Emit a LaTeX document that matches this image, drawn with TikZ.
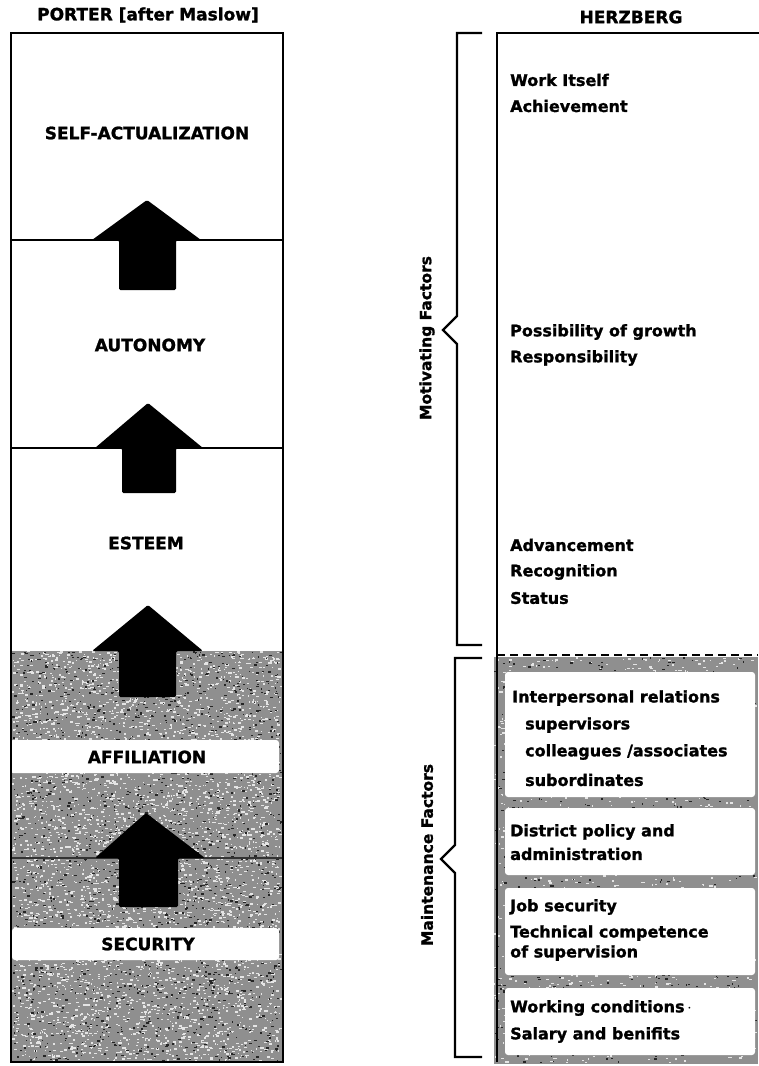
\documentclass[tikz,border=0pt]{standalone}
\usepackage{fontspec}
\setmainfont{DejaVu Sans}[BoldFeatures={FakeBold=1.3}]

% grainy grey screen: base fill plus random light and dark specks
\newcommand\grainfill[6]{% x0, y0, width, height, light specks, dark specks
  \fill[black!44] (#1,#2) rectangle ++(#3,#4);
  \foreach \k in {1,...,#5}{%
    \pgfmathsetmacro\sx{#1+rnd*(#3-3)}%
    \pgfmathsetmacro\sy{#2+rnd*(#4-2)}%
    \pgfmathsetmacro\sw{0.8+rnd*2.6}%
    \fill[white!90!black] (\sx,\sy) rectangle ++(\sw,1.4);
  }%
  \foreach \k in {1,...,#6}{%
    \pgfmathsetmacro\sx{#1+rnd*(#3-3)}%
    \pgfmathsetmacro\sy{#2+rnd*(#4-2)}%
    \pgfmathsetmacro\sw{0.8+rnd*2.2}%
    \fill[black!85] (\sx,\sy) rectangle ++(\sw,1.3);
  }%
}

\tikzset{
  frame/.style={line width=2.6pt},
  divider/.style={line width=1.6pt},
  uparrow/.style={fill=black, rounded corners=1.5pt},
  level/.style={font=\fontsize{17}{20}\selectfont\bfseries, inner sep=0pt},
  heading/.style={font=\fontsize{17}{20}\selectfont\bfseries, inner sep=0pt},
  factor/.style={font=\fontsize{16}{19}\selectfont\bfseries, anchor=west, inner sep=0pt},
  side/.style={font=\fontsize{15.5}{18}\selectfont\bfseries, rotate=90, inner sep=0pt},
  brace/.style={line width=2.3pt, line join=miter},
  band/.style={fill=white, rounded corners=3pt},
}

\begin{document}
\begin{tikzpicture}[x=1pt,y=-1pt]
\pgfmathsetseed{4711}
\useasboundingbox (0,0) rectangle (758,1066);
\fill[white] (0,0) rectangle (758,1066);

% ---------------- Porter / Maslow column ----------------
\grainfill{12}{651}{271}{411}{4500}{1800}

\draw[divider] (12,240) -- (283,240);
\draw[divider] (12,448) -- (283,448);
\draw[divider, black!80] (12,858) -- (283,858);

% arrows between the levels
\fill[uparrow] (147,200) -- (201,240) -- (176,240) -- (176,290) -- (119,290) -- (119,240) -- (92,240) -- cycle;
\fill[uparrow] (148,403) -- (203,448) -- (176,448) -- (176,493) -- (122,493) -- (122,448) -- (95,448) -- cycle;
\fill[uparrow] (148,605) -- (203,651) -- (176,651) -- (176,697) -- (119,697) -- (119,651) -- (92,651) -- cycle;
\fill[uparrow] (146,813) -- (205,858) -- (178,858) -- (178,907) -- (119,907) -- (119,858) -- (95,858) -- cycle;

% white label bands in the lower levels
\fill[band] (10,740) rectangle (279,773);
\fill[band] (12,928) rectangle (279,960);

\draw[frame] (11,33) rectangle (283,1062);

\node[heading] (porter) at (148,15) {PORTER [after Maslow]};
\node[level] (selfact) at (147,133) {SELF-ACTUALIZATION};
\node[level] (autonomy) at (150,345) {AUTONOMY};
\node[level] (esteem) at (146,543) {ESTEEM};
\node[level] (affil) at (147,757) {AFFILIATION};
\node[level] (secur) at (148,944) {SECURITY};

% ---------------- Herzberg column ----------------
\grainfill{494}{657}{264}{407}{1500}{800}
\fill[band] (505,672) rectangle (755,797);
\fill[band] (505,808) rectangle (755,875);
\fill[band] (505,888) rectangle (755,975);
\fill[band] (505,988) rectangle (755,1055);

\draw[frame] (760,33) -- (497,33) -- (497,1062);
\draw[line width=2.2pt, dash pattern=on 8pt off 5pt] (497,655) -- (758,655);

\node[heading] (herz) at (631,17) {HERZBERG};

\node[factor] (work) at (510,80) {Work Itself};
\node[factor] (achv) at (510,106) {Achievement};
\node[factor] (grow) at (510,332) {Possibility of growth};
\node[factor] (resp) at (510,358) {Responsibility};
\node[factor] (adv) at (510,545) {Advancement};
\node[factor] (recog) at (510,572) {Recognition};
\node[factor] (stat) at (510,598) {Status};

\node[factor] (inter) at (512,698) {Interpersonal relations};
\node[factor] (supv) at (525,725) {supervisors};
\node[factor] (coll) at (525,752) {colleagues /associates};
\node[factor] (subo) at (525,780) {subordinates};
\node[factor] (dist) at (510,832) {District policy and};
\node[factor] (admin) at (510,854) {administration};
\node[factor] (jobs) at (510,907) {Job security};
\node[factor] (tech) at (510,933) {Technical competence};
\node[factor] (ofsup) at (510,953) {of supervision};
\node[factor] (workc) at (510,1008) {Working conditions\,$\cdot$};
\node[factor] (sal) at (510,1035) {Salary and benifits};

% ---------------- braces ----------------
\draw[brace] (482,33) -- (457,33) -- (457,316) -- (443,330) -- (457,344) -- (457,645) -- (482,645);
\draw[brace] (482,658) -- (455,658) -- (455,845) -- (441,859) -- (455,873) -- (455,1057) -- (482,1057);

\node[side] (motiv) at (427,338) {Motivating Factors};
\node[side] (maint) at (427,855) {Maintenance Factors};
\end{tikzpicture}
\end{document}
